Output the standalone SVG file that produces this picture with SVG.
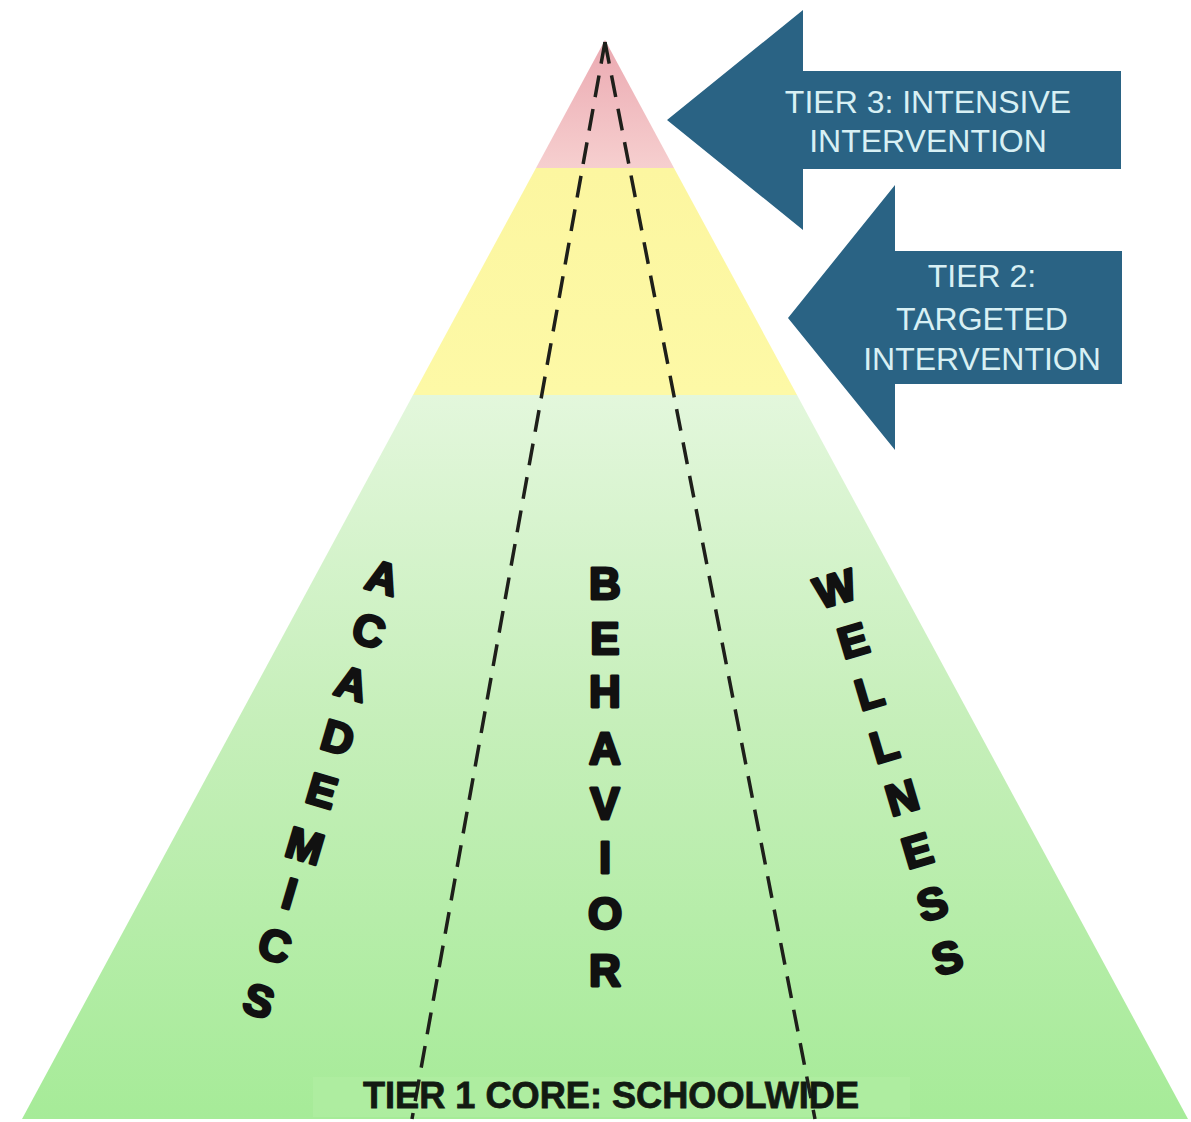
<svg xmlns="http://www.w3.org/2000/svg" width="1191" height="1122" viewBox="0 0 1191 1122">
  <defs>
    <linearGradient id="gRed" x1="0" y1="40" x2="0" y2="168" gradientUnits="userSpaceOnUse">
      <stop offset="0" stop-color="#eba9b1"/>
      <stop offset="1" stop-color="#f6cfcf"/>
    </linearGradient>
    <linearGradient id="gYellow" x1="0" y1="168" x2="0" y2="395" gradientUnits="userSpaceOnUse">
      <stop offset="0" stop-color="#fcf6a0"/>
      <stop offset="1" stop-color="#fdf9a6"/>
    </linearGradient>
    <linearGradient id="gGreen" x1="0" y1="395" x2="0" y2="1119" gradientUnits="userSpaceOnUse">
      <stop offset="0" stop-color="#e3f7dc"/>
      <stop offset="0.45" stop-color="#c6efba"/>
      <stop offset="1" stop-color="#a6eb98"/>
    </linearGradient>
    <style>
      .arrow { fill: #2a6384; }
      .atext { font-family: "Liberation Sans", Arial, sans-serif; font-size: 32px; fill: #d8f0f4; text-anchor: middle; }
      .dash { stroke: #1e1f1a; stroke-width: 3.5; stroke-dasharray: 22 12; fill: none; }
      .vl { font-family: "Liberation Sans", Arial, sans-serif; font-weight: bold; font-size: 44px; fill: #111; stroke: #111; stroke-width: 2.8; stroke-linejoin: round; text-anchor: middle; }
      .base { font-family: "Liberation Sans", Arial, sans-serif; font-weight: bold; font-size: 37px; fill: #121a12; stroke: #121a12; stroke-width: 0.8; text-anchor: middle; }
    </style>
  </defs>
  <rect width="1191" height="1122" fill="#ffffff"/>

  <g id="tier1">
    <polygon points="413,395 797,395 1188,1119 22,1119" fill="url(#gGreen)"/>
    <rect x="313" y="1077" width="597" height="40" fill="#b0eea3" opacity="0.7"/>
  </g>
  <g id="tier2">
    <polygon points="536,168 674,168 797,395 413,395" fill="url(#gYellow)"/>
  </g>
  <g id="tier3">
    <polygon points="605,40 674,168 536,168" fill="url(#gRed)"/>
  </g>

  <g id="connectors">
    <line class="dash" x1="605" y1="42" x2="412" y2="1119"/>
    <line class="dash" x1="605" y1="42" x2="815" y2="1119"/>
  </g>

  <g id="tier1-label">
    <text class="base" x="611" y="1108" textLength="496" lengthAdjust="spacingAndGlyphs">TIER 1 CORE: SCHOOLWIDE</text>
  </g>

  <g id="academics">
    <text class="vl" transform="translate(383,577) rotate(16.5)" y="16">A</text>
    <text class="vl" transform="translate(369,630) rotate(16.5)" y="16">C</text>
    <text class="vl" transform="translate(352,683) rotate(16.5)" y="16">A</text>
    <text class="vl" transform="translate(338,737) rotate(16.5)" y="16">D</text>
    <text class="vl" transform="translate(322,790) rotate(16.5)" y="16">E</text>
    <text class="vl" transform="translate(305,845) rotate(16.5)" y="16">M</text>
    <text class="vl" transform="translate(290,893) rotate(16.5)" y="16">I</text>
    <text class="vl" transform="translate(275,945) rotate(16.5)" y="16">C</text>
    <text class="vl" transform="translate(259,1000) rotate(16.5)" y="16">S</text>
  </g>

  <g id="behavior">
    <text class="vl" x="605" y="599">B</text>
    <text class="vl" x="605" y="654">E</text>
    <text class="vl" x="605" y="707">H</text>
    <text class="vl" x="605" y="764">A</text>
    <text class="vl" x="605" y="819">V</text>
    <text class="vl" x="605" y="873">I</text>
    <text class="vl" x="605" y="929">O</text>
    <text class="vl" x="605" y="986">R</text>
  </g>

  <g id="wellness">
    <text class="vl" transform="translate(835,588) rotate(-16.5)" y="16">W</text>
    <text class="vl" transform="translate(853,640) rotate(-16.5)" y="16">E</text>
    <text class="vl" transform="translate(869,692) rotate(-16.5)" y="16">L</text>
    <text class="vl" transform="translate(884,745) rotate(-16.5)" y="16">L</text>
    <text class="vl" transform="translate(902,797) rotate(-16.5)" y="16">N</text>
    <text class="vl" transform="translate(917,850) rotate(-16.5)" y="16">E</text>
    <text class="vl" transform="translate(932,903) rotate(-16.5)" y="16">S</text>
    <text class="vl" transform="translate(947,957) rotate(-16.5)" y="16">S</text>
  </g>

  <g id="arrow-tier3">
    <path class="arrow" d="M667,120 L803,10 L803,71 L1121,71 L1121,169 L803,169 L803,230 Z"/>
    <text class="atext" x="928" y="113">TIER 3: INTENSIVE</text>
    <text class="atext" x="928" y="152">INTERVENTION</text>
  </g>

  <g id="arrow-tier2">
    <path class="arrow" d="M788,318 L895,185 L895,251 L1122,251 L1122,384 L895,384 L895,450 Z"/>
    <text class="atext" x="982" y="287">TIER 2:</text>
    <text class="atext" x="982" y="330">TARGETED</text>
    <text class="atext" x="982" y="370">INTERVENTION</text>
  </g>
</svg>
